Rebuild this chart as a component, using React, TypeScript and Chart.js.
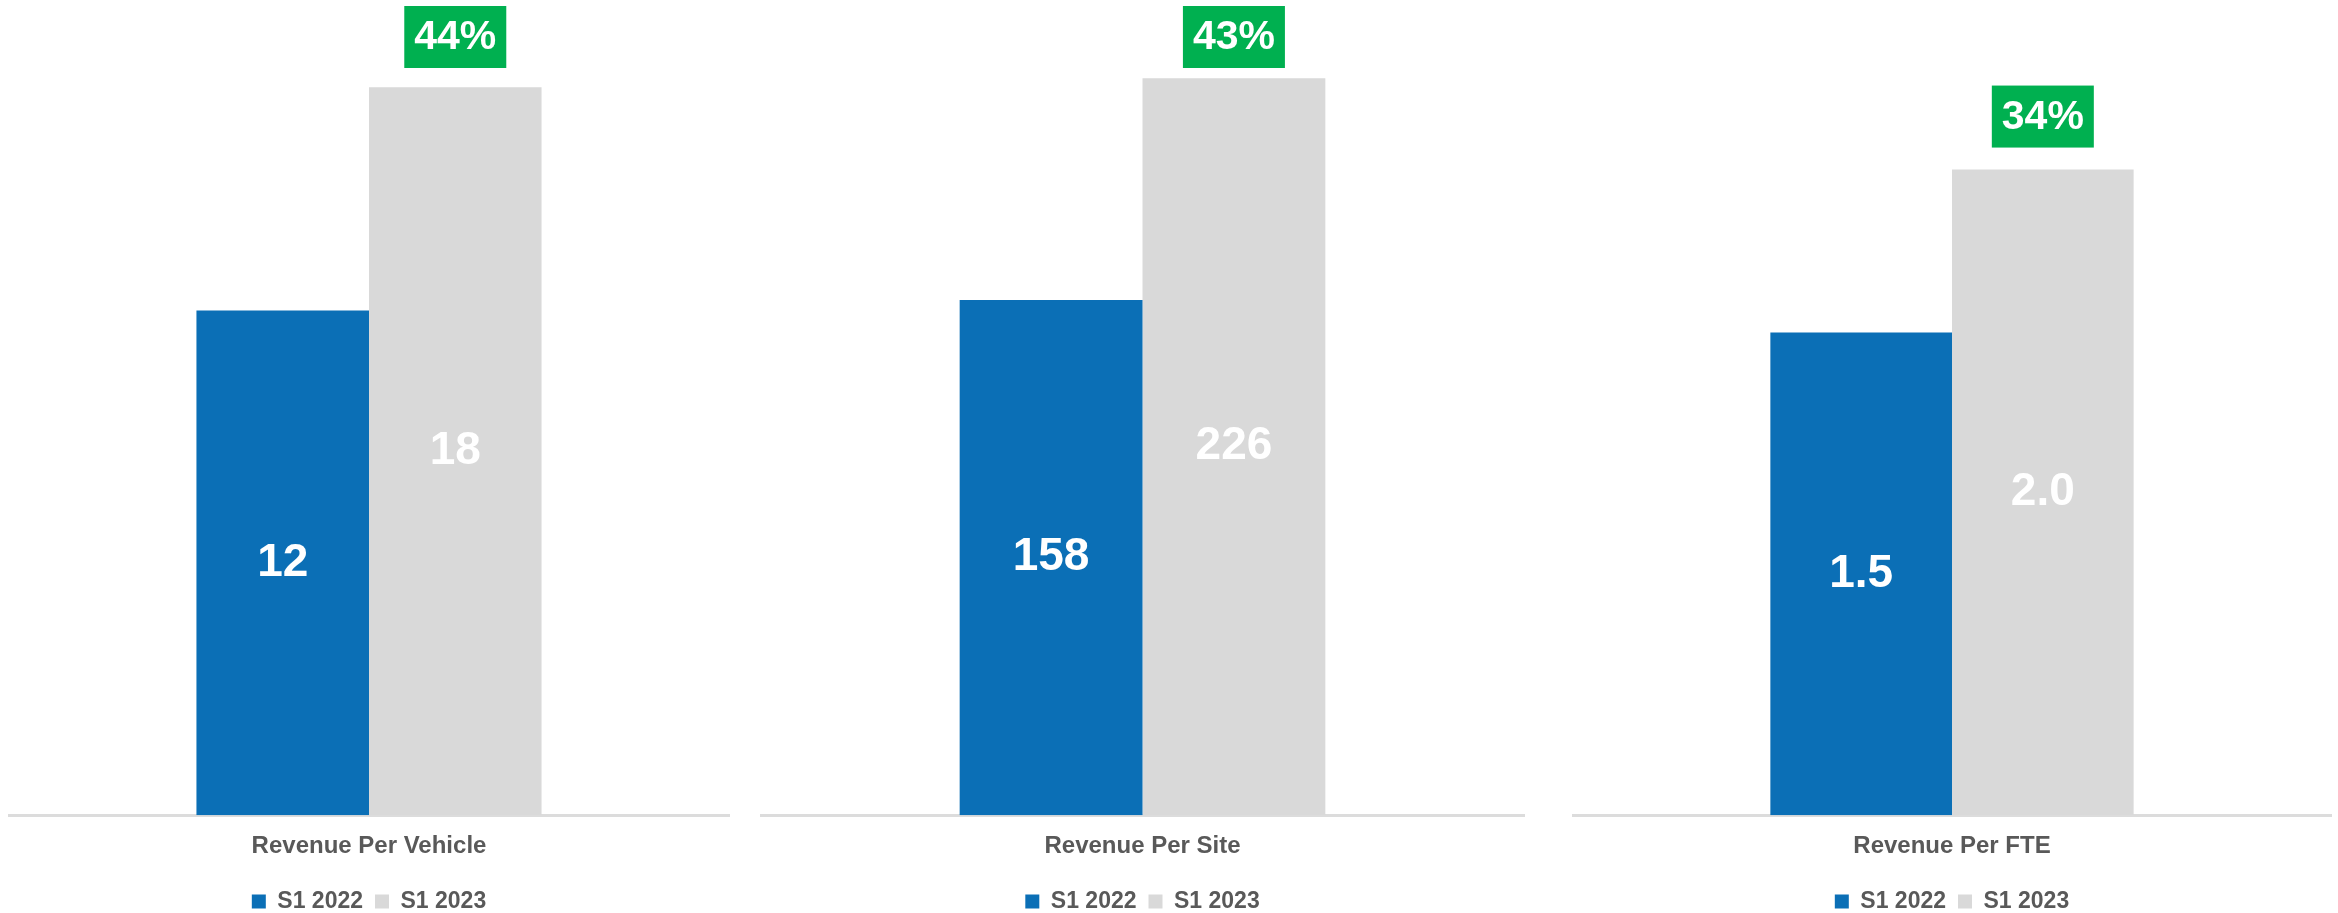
import React, { useEffect, useRef } from "react";
import { Chart, registerables } from "chart.js";

Chart.register(...registerables);

// ---- data ----
const seriesNames = ["S1 2022", "S1 2023"];
const categories = ["Revenue Per Vehicle", "Revenue Per Site", "Revenue Per FTE"];
const s1_2022 = [12.38, 158, 1.48];
const s1_2023 = [17.86, 226, 1.98];
const valueDecimals = [0, 0, 1];
const growthLabels = ["44%", "43%", "34%"];
const axisMax = [20, 250, 2.5];

// ---- styles ----
const BLUE = "#0B6FB6";
const GRAY = "#D9D9D9";
const GREEN = "#00B050";
const TEXT = "#595959";
const FONT = "'Liberation Sans', Arial, sans-serif";

const panels = [
  { left: 8, width: 722 },
  { left: 760, width: 765 },
  { left: 1572, width: 760 },
];
const CANVAS_H = 923;

const labelPlugin = {
  id: "barLabels",
  afterDatasetsDraw(chart: any, _args: any, opts: any) {
    const { ctx } = chart;
    ctx.save();
    ctx.textAlign = "center";
    ctx.textBaseline = "middle";
    chart.data.datasets.forEach((ds: any, di: number) => {
      const meta = chart.getDatasetMeta(di);
      meta.data.forEach((el: any, i: number) => {
        const { x, y, base } = el.getProps(["x", "y", "base"], true);
        ctx.font = `bold 46px ${FONT}`;
        ctx.fillStyle = "#FFFFFF";
        ctx.fillText(Number(ds.data[i]).toFixed(opts.decimals), x, (y + base) / 2);
      });
    });
    const el = chart.getDatasetMeta(1).data[0];
    const { x, y } = el.getProps(["x", "y"], true);
    const bw = 102;
    const bh = 62;
    const top = Math.max(6, y - 22 - bh);
    ctx.fillStyle = GREEN;
    ctx.fillRect(x - bw / 2, top, bw, bh);
    ctx.fillStyle = "#FFFFFF";
    ctx.font = `bold 41px ${FONT}`;
    ctx.fillText(opts.growth, x, top + bh / 2 + 1);
    ctx.restore();
  },
};

function Panel({ i }: { i: number }) {
  const ref = useRef<HTMLCanvasElement>(null);
  useEffect(() => {
    if (!ref.current) return;
    const chart = new Chart(ref.current, {
      type: "bar",
      data: {
        labels: [categories[i]],
        datasets: [
          {
            label: seriesNames[0],
            data: [s1_2022[i]],
            backgroundColor: BLUE,
            borderWidth: 0,
            barPercentage: 1,
            categoryPercentage: 0.478,
          },
          {
            label: seriesNames[1],
            data: [s1_2023[i]],
            backgroundColor: GRAY,
            borderWidth: 0,
            barPercentage: 1,
            categoryPercentage: 0.478,
          },
        ],
      },
      options: {
        responsive: false,
        animation: false,
        events: [],
        layout: { padding: 0 },
        scales: {
          x: {
            grid: { display: false, drawTicks: false },
            border: { display: true, color: "#DCDCDC", width: 3 },
            ticks: {
              color: TEXT,
              padding: 17,
              font: { family: FONT, size: 24, weight: "bold" },
            },
          },
          y: { display: false, min: 0, max: axisMax[i] },
        },
        plugins: {
          tooltip: { enabled: false },
          legend: {
            position: "bottom",
            labels: {
              boxWidth: 14,
              boxHeight: 14,
              padding: 12,
              color: TEXT,
              font: { family: FONT, size: 23, weight: "bold" },
            },
          },
          barLabels: { decimals: valueDecimals[i], growth: growthLabels[i] },
        } as any,
      },
      plugins: [labelPlugin],
    } as any);
    return () => chart.destroy();
  }, [i]);
  return (
    <canvas
      ref={ref}
      width={panels[i].width}
      height={CANVAS_H}
      style={{
        position: "absolute",
        left: panels[i].left,
        top: 0,
        width: panels[i].width,
        height: CANVAS_H,
      }}
    />
  );
}

export default function App() {
  return (
    <div
      style={{
        position: "absolute",
        left: 0,
        top: 0,
        width: 2338,
        height: 913,
        overflow: "hidden",
        background: "#FFFFFF",
      }}
    >
      {[0, 1, 2].map((i) => (
        <Panel key={i} i={i} />
      ))}
    </div>
  );
}
